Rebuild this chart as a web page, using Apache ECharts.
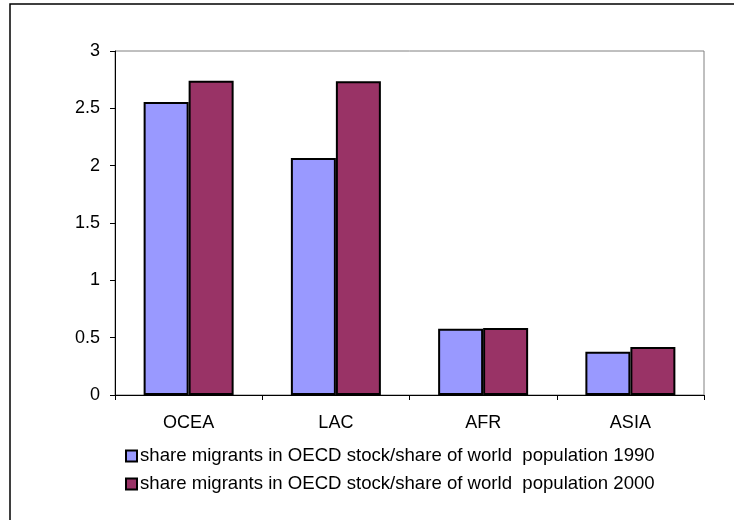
<!DOCTYPE html>
<html>
<head>
<meta charset="utf-8">
<script src="https://cdn.jsdelivr.net/npm/echarts@6/dist/echarts.min.js"></script>
<style>
  html, body { margin: 0; padding: 0; background: #fff; }
  #chart { width: 734px; height: 520px; }
</style>
</head>
<body>
<div id="chart"></div>
<script>
// Regions and the ratio of their share of OECD migrant stock to their share of world population
const regions = ['OCEA', 'LAC', 'AFR', 'ASIA'];
const ratio1990 = [2.555, 2.067, 0.578, 0.378];
const ratio2000 = [2.741, 2.737, 0.585, 0.419];
const seriesNames = [
  'share migrants in OECD stock/share of world  population 1990',
  'share migrants in OECD stock/share of world  population 2000'
];

const FONT = '"Liberation Sans", Arial, sans-serif';
const chart = echarts.init(document.getElementById('chart'), null, { renderer: 'canvas' });

const barStyle = (color) => ({ color: color, borderColor: '#000', borderWidth: 2 });

chart.setOption({
  animation: false,
  backgroundColor: '#fff',
  textStyle: { fontFamily: FONT, color: '#000' },
  grid: {
    left: 115, right: 30, top: 51, bottom: 125,
    show: true, borderColor: '#808080', borderWidth: 1, backgroundColor: 'transparent'
  },
  graphic: [{
    type: 'rect',
    shape: { x: 10, y: 4, width: 800, height: 600 },
    style: { fill: 'none', stroke: '#000', lineWidth: 1.5 },
    silent: true, z: 100
  }],
  legend: {
    orient: 'vertical',
    left: 125, top: 446,
    padding: 0,
    itemWidth: 11, itemHeight: 11,
    itemGap: 8,
    icon: 'rect',
    itemStyle: { borderColor: '#000', borderWidth: 2 },
    textStyle: { fontFamily: FONT, fontSize: 18.6, color: '#000', lineHeight: 20, padding: [0, 0, 0, -2] },
    data: seriesNames
  },
  xAxis: {
    type: 'category',
    data: regions,
    axisLine: { lineStyle: { color: '#000', width: 1 } },
    axisTick: { show: true, alignWithLabel: false, length: 5, lineStyle: { color: '#000' } },
    axisLabel: { fontFamily: FONT, fontSize: 18, color: '#000', margin: 19 },
    splitLine: { show: false }
  },
  yAxis: {
    type: 'value',
    min: 0, max: 3, interval: 0.5,
    axisLine: { show: true, lineStyle: { color: '#000', width: 1 } },
    axisTick: { show: true, length: 5, lineStyle: { color: '#000' } },
    axisLabel: { fontFamily: FONT, fontSize: 18, color: '#000', margin: 15 },
    splitLine: { show: false }
  },
  series: [
    {
      name: seriesNames[0], type: 'bar', data: ratio1990,
      barWidth: 45, barGap: '0%',
      itemStyle: barStyle('#9999FF')
    },
    {
      name: seriesNames[1], type: 'bar', data: ratio2000,
      barWidth: 45, barGap: '0%',
      itemStyle: barStyle('#993366')
    }
  ]
});
</script>
</body>
</html>
